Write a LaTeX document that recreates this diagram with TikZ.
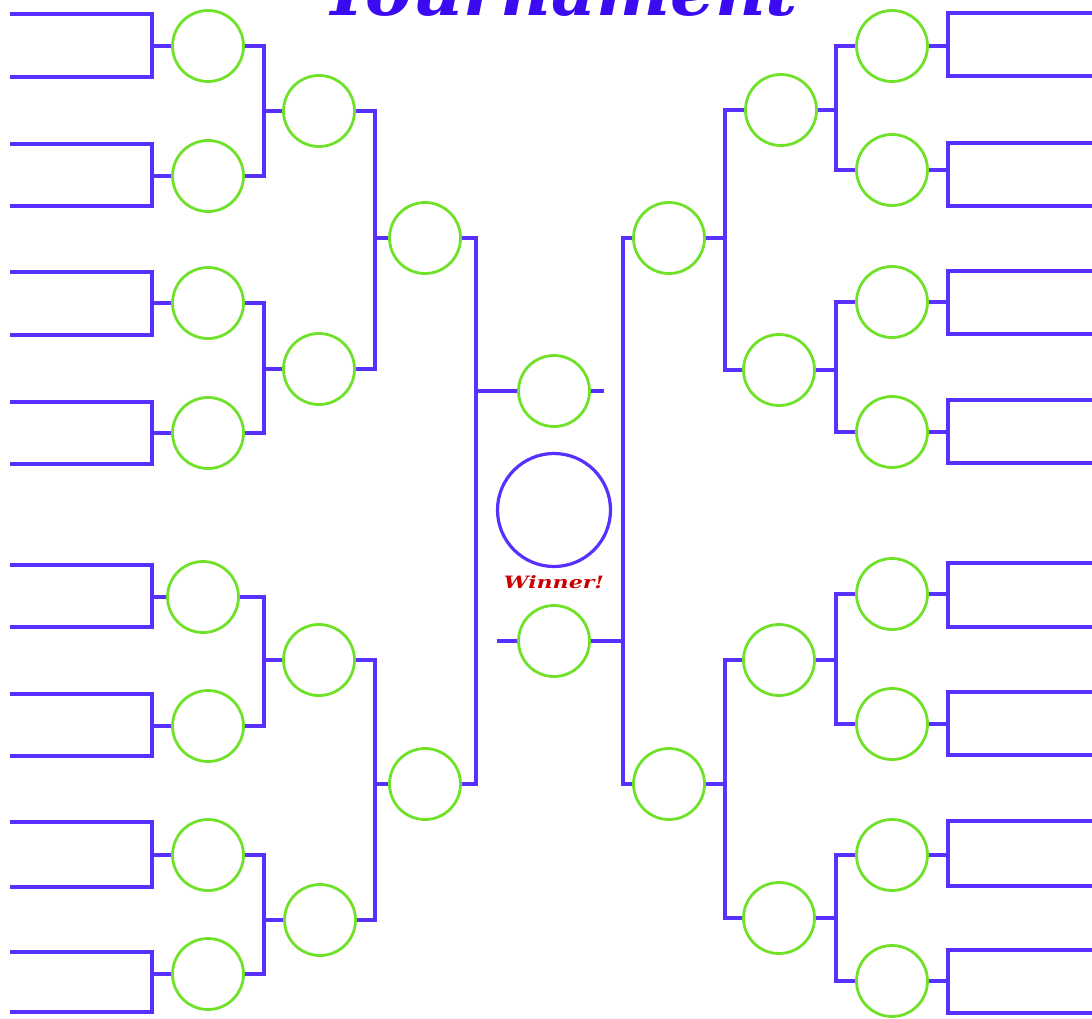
\documentclass[tikz,border=0pt]{standalone}
\usepackage{fontspec}
\newfontfamily\titlefont{DejaVu Serif}
\definecolor{brblue}{RGB}{88,48,255}
\definecolor{ttblue}{RGB}{60,10,240}
\definecolor{cgreen}{RGB}{110,225,40}
\definecolor{wred}{RGB}{200,0,0}
\tikzset{
  br/.style={draw=brblue, line width=3.4pt, line join=miter},
  gc/.style={circle, draw=cgreen, line width=2.8pt, minimum size=71pt, inner sep=0pt},
  wc/.style={circle, draw=brblue, line width=3.2pt, minimum size=113pt, inner sep=0pt},
}
\begin{document}
\begin{tikzpicture}[x=1pt,y=-1pt]
\useasboundingbox (0,0) rectangle (1092,1019);
% title
\node[anchor=base, text=ttblue, font=\titlefont\bfseries\itshape\fontsize{70}{76}\selectfont] (title) at (560,16) {Tournament};
% ---------- left side ----------
\foreach \n/\x/\y/\t/\b in {a/208/46/14/77, b/208/176/144/206, c/208/303/272/335, d/208/433/402/464,
                             e/203/597/565/627, f/208/726/694/756, g/208/855/822/887, h/208/974/952/1012}{
  \node[gc] (L1\n) at (\x,\y) {};
  \coordinate (LT\n) at (10,\t);
  \coordinate (LB\n) at (10,\b);
  \draw[br] (LT\n) -- (152,\t) -- (152,\b) -- (LB\n);
  \draw[br] (152,\y) -- (L1\n.west);
}
\foreach \n/\x/\y in {a/319/111, b/319/369, c/319/660, d/320/920}{
  \node[gc] (L2\n) at (\x,\y) {};
}
\node[gc] (L3a) at (425,238) {};
\node[gc] (L3b) at (425,784) {};
\foreach \u/\v/\w in {a/b/a, c/d/b, e/f/c, g/h/d}{
  \coordinate (LJ1\w) at (264,0 |- L2\w);
  \draw[br] (L1\u.east) -| (LJ1\w) |- (L1\v.east);
  \draw[br] (LJ1\w) -- (L2\w.west);
}
\foreach \u/\v/\w in {a/b/a, c/d/b}{
  \coordinate (LJ2\w) at (375,0 |- L3\w);
  \draw[br] (L2\u.east) -| (LJ2\w) |- (L2\v.east);
  \draw[br] (LJ2\w) -- (L3\w.west);
}
\node[gc] (SFa) at (554,391) {};
\coordinate (LJ3) at (476,391);
\draw[br] (L3a.east) -| (LJ3) |- (L3b.east);
\draw[br] (LJ3) -- (SFa.west);
\coordinate (SFaend) at (604,391);
\draw[br] (SFa.east) -- (SFaend);
% ---------- winner ----------
\node[wc] (W) at (554,510) {};
\node[anchor=base, text=wred, font=\titlefont\bfseries\itshape\fontsize{17}{19}\selectfont, xscale=1.3] (wtxt) at (554,588) {Winner!};
% ---------- right side ----------
\node[gc] (SFb) at (554,641) {};
\coordinate (SFbend) at (497,641);
\draw[br] (SFbend) -- (SFb.west);
\node[gc] (R3a) at (669,238) {};
\node[gc] (R3b) at (669,784) {};
\coordinate (RJ3) at (623,641);
\draw[br] (R3a.west) -| (RJ3) |- (R3b.west);
\draw[br] (RJ3) -- (SFb.east);
\foreach \n/\x/\y in {a/781/110, b/779/370, c/779/660, d/779/918}{
  \node[gc] (R2\n) at (\x,\y) {};
}
\foreach \n/\y/\t/\b in {a/46/13/76, b/170/143/206, c/302/271/334, d/432/400/463,
                         e/594/563/627, f/724/692/755, g/855/821/886, h/981/950/1013}{
  \node[gc] (R1\n) at (892,\y) {};
  \coordinate (RT\n) at (1092,\t);
  \coordinate (RB\n) at (1092,\b);
  \draw[br] (RT\n) -- (948,\t) -- (948,\b) -- (RB\n);
  \draw[br] (948,\y) -- (R1\n.east);
}
\foreach \u/\v/\w in {a/b/a, c/d/b, e/f/c, g/h/d}{
  \coordinate (RJ1\w) at (836,0 |- R2\w);
  \draw[br] (R1\u.west) -| (RJ1\w) |- (R1\v.west);
  \draw[br] (RJ1\w) -- (R2\w.east);
}
\foreach \u/\v/\w in {a/b/a, c/d/b}{
  \coordinate (RJ2\w) at (725,0 |- R3\w);
  \draw[br] (R2\u.west) -| (RJ2\w) |- (R2\v.west);
  \draw[br] (RJ2\w) -- (R3\w.east);
}
\end{tikzpicture}
\end{document}
